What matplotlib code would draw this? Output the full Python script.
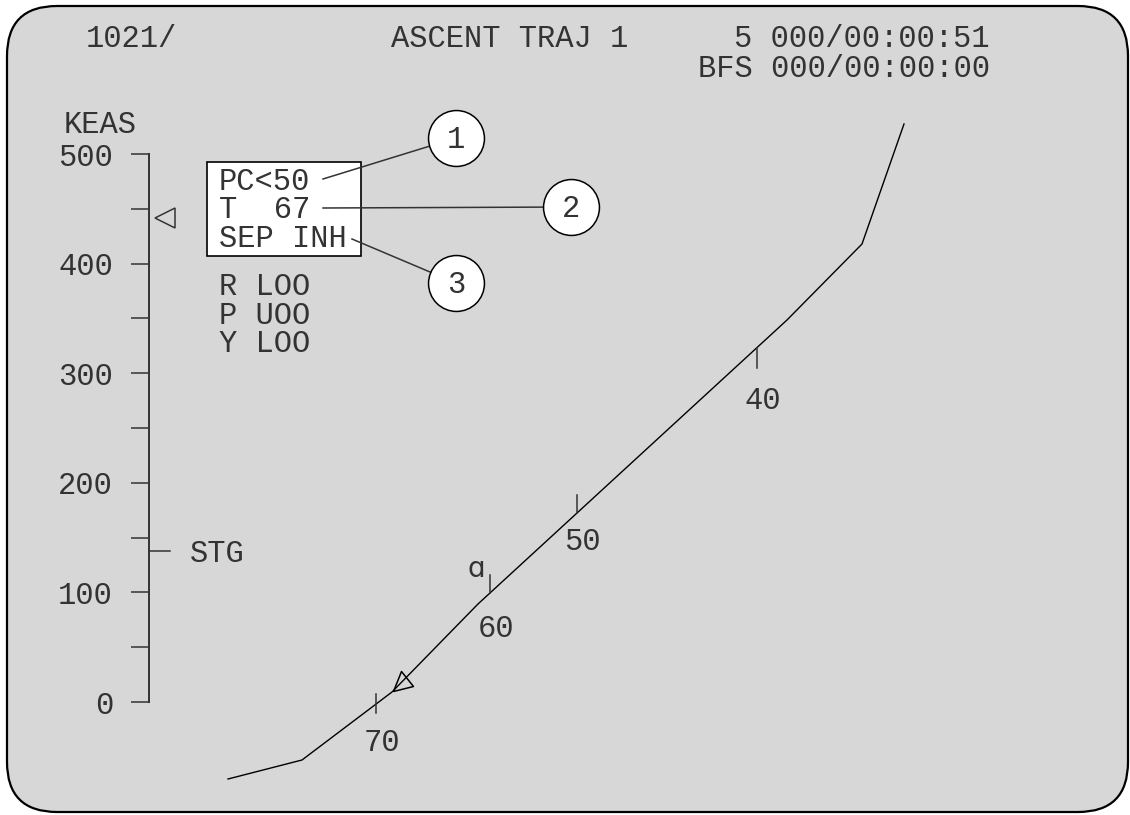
import numpy as np
import matplotlib
matplotlib.use('Agg')
import matplotlib.pyplot as plt
from matplotlib.patches import FancyBboxPatch, Rectangle

keas_major = [0, 100, 200, 300, 400, 500]
keas_minor = [50, 150, 250, 350, 450]
keas_now = 442          # triangle on the KEAS tape
keas_stg = 138          # staging mark

# trajectory line, in display units (px from top-left)
traj_x = [228, 302, 392, 478, 787, 862, 904]
traj_y = [779, 760, 692, 604, 320, 244, 124]
tick_x = [757, 577, 490, 376]
tick_labels = ['40', '50', '60', '70']
vehicle_x = 393

header_left = '1021/'
header_title = 'ASCENT TRAJ 1'
header_gpc = '5 000/00:00:51'
header_bfs = 'BFS 000/00:00:00'
box_lines = ['PC<50', 'T  67', 'SEP INH']
att_lines = ['R LOO', 'P UOO', 'Y LOO']
callout_nums = ['1', '2', '3']
callout_from = [(323, 179), (323, 208), (352, 239)]
callout_at = [(456, 138), (571, 207), (456, 283)]

BG = '#d7d7d7'
INK = '#333333'
MONO = ['Liberation Mono', 'DejaVu Sans']
FS = 22

fig = plt.figure(figsize=(11.3, 8.15), dpi=100, facecolor='white')
ax = fig.add_axes([0, 0, 1, 1])
ax.set_xlim(0, 1130)
ax.set_ylim(815, 0)
ax.axis('off')

ax.add_patch(FancyBboxPatch((7, 6), 1121, 806, boxstyle='round,pad=0,rounding_size=50',
                            fc=BG, ec='black', lw=1.6, zorder=0))


def txt(x, y, s, ha='left', size=FS, **kw):
    ax.text(x, y, s, ha=ha, va='baseline', fontsize=size, family=MONO, color=INK, **kw)


# header
txt(86, 47, header_left)
txt(391, 47, header_title)
txt(990, 47, header_gpc, ha='right')
txt(990, 77, header_bfs, ha='right')

# KEAS tape
txt(64, 133, 'KEAS')
tax = fig.add_axes([149 / 1130, (815 - 702) / 815, 111 / 1130, 548 / 815])
tax.set_xlim(0, 111)
tax.set_ylim(0, 500)
tax.patch.set_alpha(0)
for s in ['top', 'right', 'bottom']:
    tax.spines[s].set_visible(False)
tax.spines['left'].set_color(INK)
tax.spines['left'].set_linewidth(1.4)
tax.set_xticks([])
tax.set_yticks(keas_major, labels=[str(v) for v in keas_major])
tax.set_yticks(keas_minor, minor=True)
tax.tick_params(axis='y', which='both', direction='out', length=13, width=1.1,
                color=INK, pad=13, labelsize=FS, labelcolor=INK, labelfontfamily='Liberation Mono')
tax.plot(16, keas_now, marker='<', ms=14, mfc='none', mec=INK, mew=1.1, clip_on=False)
tax.plot([0, 21], [keas_stg, keas_stg], color=INK, lw=1.1, clip_on=False)
tax.text(41, keas_stg, 'STG', va='center_baseline', fontsize=FS, family=MONO, color=INK)

# status box
ax.add_patch(Rectangle((207, 162), 154, 94, fc='white', ec='black', lw=1.2, zorder=2))
for i, s in enumerate(box_lines):
    txt(219, 190 + 28.5 * i, s, zorder=3)
for i, s in enumerate(att_lines):
    txt(219, 295 + 28.5 * i, s)

# callouts
for n, (x0, y0), (x1, y1) in zip(callout_nums, callout_from, callout_at):
    ax.plot([x0, x1], [y0, y1], color=INK, lw=1.1, zorder=3)
    ax.scatter([x1], [y1], s=1620, fc='white', ec='black', lw=1.1, zorder=4)
    ax.text(x1, y1 + 10, n, ha='center', va='baseline', fontsize=FS, family=MONO,
            color=INK, zorder=5)

# trajectory
ax.plot(traj_x, traj_y, color='black', lw=1.0, zorder=2)
tick_y = np.interp(tick_x, traj_x, traj_y)
tick_span = [(0, 20), (-18, 0), (-18, 0), (-10, 9)]
label_pos = [(763, 409), (582, 550), (496, 637), (382, 751)]
for x, y, (a, b), lab, (lx, ly) in zip(tick_x, tick_y, tick_span, tick_labels, label_pos):
    ax.plot([x, x], [y + a, y + b], color=INK, lw=1.1, zorder=2)
    ax.text(lx, ly, lab, ha='center', va='baseline', fontsize=FS, family=MONO, color=INK)
ax.text(476, 577, '\u0251', ha='center', va='baseline', fontsize=20,
        family=['DejaVu Sans'], color=INK)

# vehicle symbol on the trajectory
veh_y = np.interp(vehicle_x, traj_x, traj_y)
tri = [(0, 0), (8, 20), (20, 5), (0, 0)]
ax.plot(vehicle_x, veh_y, marker=tri, ms=28.8, mfc='none', mec='black', mew=1.1, zorder=3)

fig.savefig('out.png', dpi=100, facecolor='white')
